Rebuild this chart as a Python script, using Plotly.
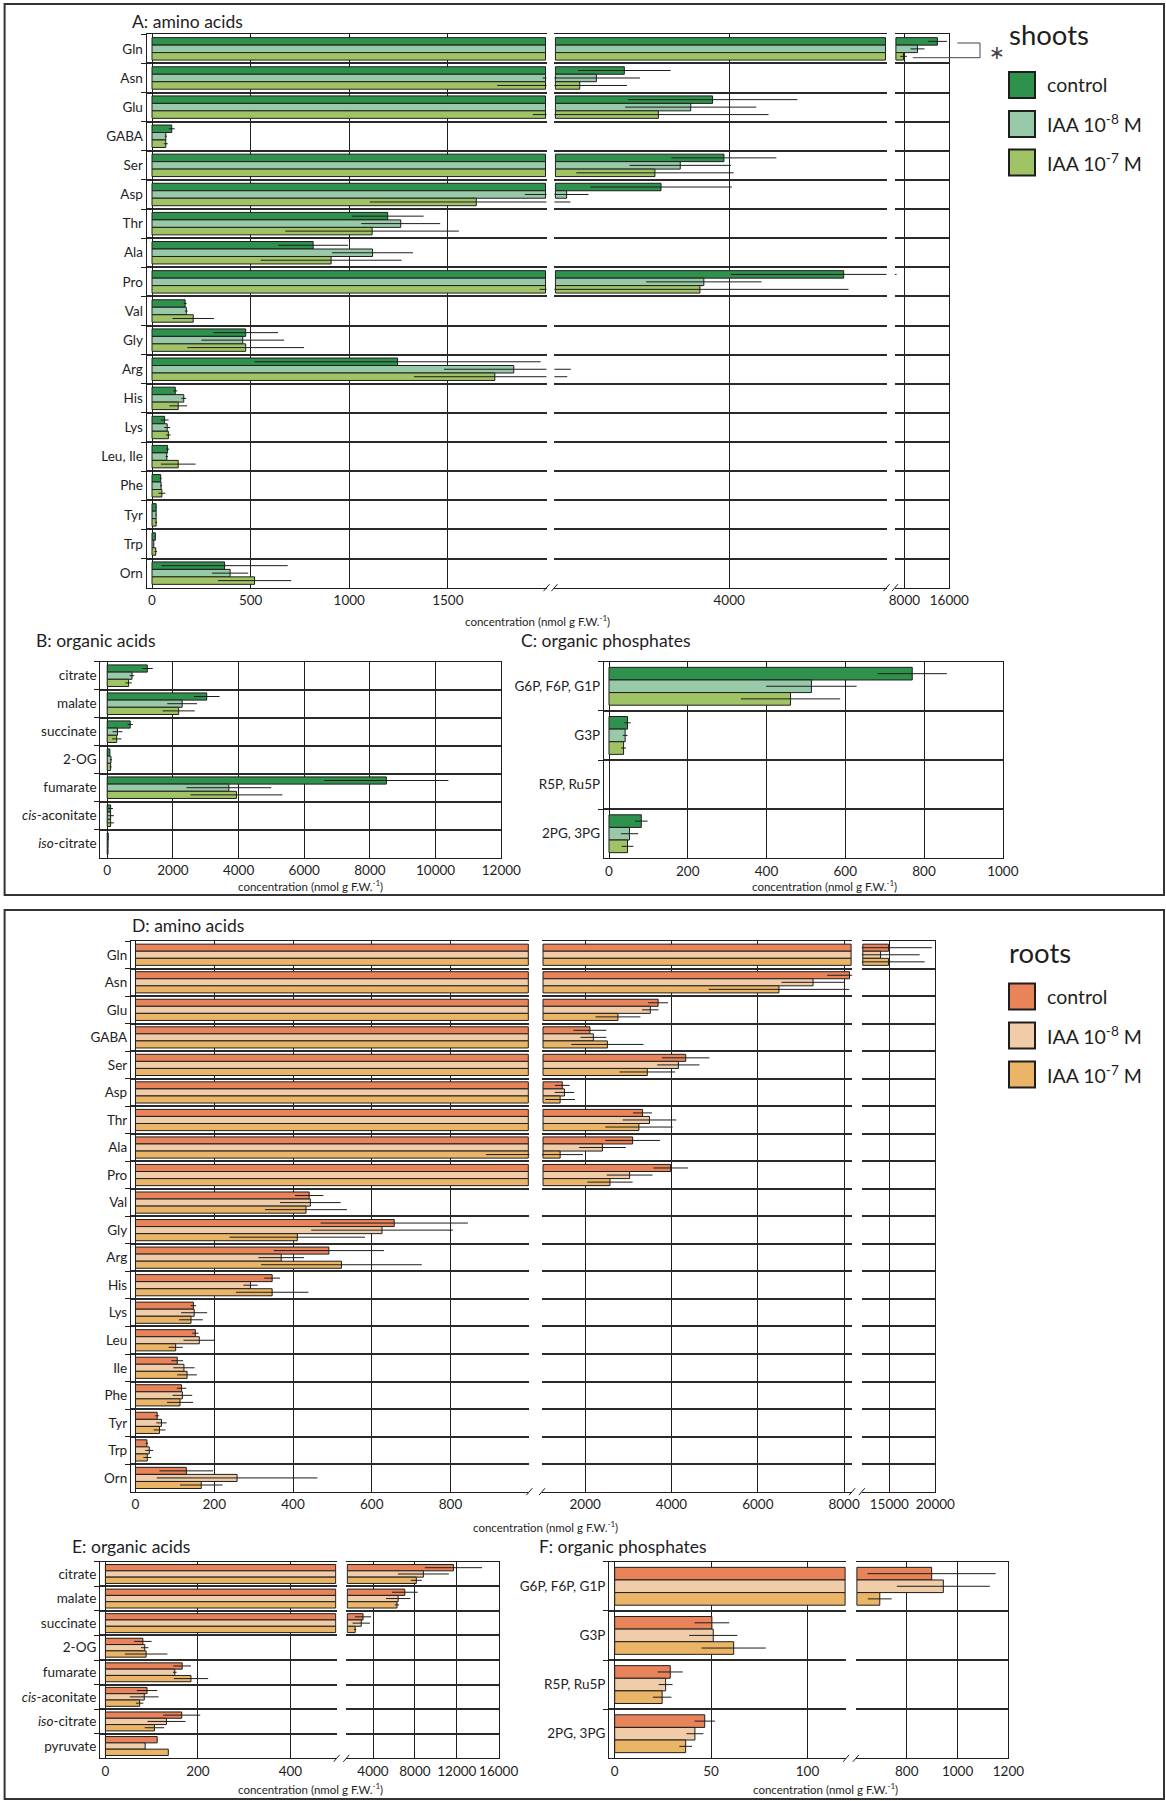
import plotly.graph_objects as go

W, H = 1166, 1801
FONT = "Lato, 'Open Sans', sans-serif"
INK = "#1e1e1e"

# ---------------- data ----------------
treatments = ["control", "IAA 10<sup>-8</sup> M", "IAA 10<sup>-7</sup> M"]

# A: shoots, amino acids (nmol g F.W.-1)
shoot_amino = ["Gln", "Asn", "Glu", "GABA", "Ser", "Asp", "Thr", "Ala", "Pro", "Val",
               "Gly", "Arg", "His", "Lys", "Leu, Ile", "Phe", "Tyr", "Trp", "Orn"]
shoot_amino_control = [13880, 2800, 3810, 100, 3940, 3220, 1195, 817, 5310, 168,
                       475, 1245, 118, 64, 79, 44, 21, 17, 368]
shoot_amino_control_err = [1700, 530, 970, 15, 600, 810, 182, 177, 1290, 7,
                           164, 725, 10, 20, 8, 5, 3, 3, 320]
shoot_amino_iaa8 = [10330, 2480, 3560, 70, 3440, 2140, 1261, 1118, 3710, 174,
                    460, 1834, 161, 77, 75, 46, 21, 9, 396]
shoot_amino_iaa8_err = [1250, 500, 750, 5, 580, 250, 200, 205, 660, 7,
                        210, 354, 12, 15, 6, 5, 3, 2, 92]
shoot_amino_iaa7 = [7830, 2290, 3190, 70, 3150, 1644, 1116, 908, 3665, 209,
                    475, 1738, 133, 83, 133, 50, 21, 19, 520]
shoot_amino_iaa7_err = [600, 540, 1260, 10, 900, 540, 440, 357, 1700, 105,
                        296, 410, 45, 12, 88, 18, 5, 6, 186]

# B: shoots, organic acids
shoot_acids = ["citrate", "malate", "succinate", "2-OG", "fumarate",
               "<i>cis</i>-aconitate", "<i>iso</i>-citrate"]
shoot_acids_control = [1220, 3030, 700, 80, 8500, 104, 33]
shoot_acids_control_err = [165, 390, 80, 10, 1890, 70, 10]
shoot_acids_iaa8 = [755, 2283, 313, 115, 3704, 104, 28]
shoot_acids_iaa8_err = [70, 455, 150, 30, 1290, 100, 5]
shoot_acids_iaa7 = [651, 2177, 289, 104, 3936, 104, 25]
shoot_acids_iaa7_err = [95, 490, 145, 30, 1400, 100, 5]

# C: shoots, organic phosphates
phosphates = ["G6P, F6P, G1P", "G3P", "R5P, Ru5P", "2PG, 3PG"]
shoot_phos_control = [770, 47, 0, 82]
shoot_phos_control_err = [88, 8, 0, 16]
shoot_phos_iaa8 = [514, 41, 0, 52]
shoot_phos_iaa8_err = [115, 6, 0, 22]
shoot_phos_iaa7 = [461, 37, 0, 47]
shoot_phos_iaa7_err = [126, 6, 0, 15]

# D: roots, amino acids
root_amino = ["Gln", "Asn", "Glu", "GABA", "Ser", "Asp", "Thr", "Ala", "Pro", "Val",
              "Gly", "Arg", "His", "Lys", "Leu", "Ile", "Phe", "Tyr", "Trp", "Orn"]
root_amino_control = [14920, 8125, 3690, 2110, 4330, 1470, 3330, 3100, 3980, 441,
                      657, 491, 347, 147, 152, 106, 117, 55, 29, 129]
root_amino_control_err = [4700, 520, 230, 380, 550, 170, 220, 635, 400, 36,
                          187, 140, 20, 7, 8, 15, 12, 5, 3, 68]
root_amino_iaa8 = [14040, 7280, 3510, 2190, 4160, 1520, 3490, 2400, 3030, 444,
                   626, 370, 292, 149, 162, 123, 119, 66, 35, 258]
root_amino_iaa8_err = [4260, 730, 190, 300, 490, 225, 620, 540, 530, 77,
                       180, 58, 18, 33, 40, 27, 25, 13, 10, 204]
root_amino_iaa7 = [14920, 6490, 2760, 2515, 3440, 1420, 3245, 1420, 2575, 433,
                   411, 523, 347, 141, 102, 131, 113, 61, 30, 167]
root_amino_iaa7_err = [3930, 1630, 520, 835, 645, 345, 780, 530, 525, 104,
                       172, 204, 92, 30, 18, 25, 33, 15, 10, 54]

# E: roots, organic acids
root_acids = ["citrate", "malate", "succinate", "2-OG", "fumarate",
              "<i>cis</i>-aconitate", "<i>iso</i>-citrate", "pyruvate"]
root_acids_control = [11680, 7040, 3050, 81, 166, 90, 165, 112]
root_acids_control_err = [2730, 1230, 770, 19, 19, 22, 40, 0]
root_acids_iaa8 = [8810, 6400, 2880, 85, 150, 84, 132, 86]
root_acids_iaa8_err = [2430, 1160, 830, 8, 4, 31, 41, 0]
root_acids_iaa7 = [8135, 6290, 2300, 88, 185, 74, 106, 136]
root_acids_iaa7_err = [520, 200, 100, 46, 37, 8, 21, 0]

# F: roots, organic phosphates
root_phos_control = [898, 50.4, 28.8, 46.7]
root_phos_control_err = [252, 9, 6.5, 5.3]
root_phos_iaa8 = [944, 51.1, 26.4, 41.6]
root_phos_iaa8_err = [183, 12.5, 3.6, 4.4]
root_phos_iaa7 = [694, 61.7, 24.6, 36.8]
root_phos_iaa7_err = [47, 16.7, 4.8, 3.3]

# tick values of each axis segment
ticks_A = [[0, 500, 1000, 1500], [4000], [8000, 16000]]
ticks_B = [[0, 2000, 4000, 6000, 8000, 10000, 12000]]
ticks_C = [[0, 200, 400, 600, 800, 1000]]
ticks_D = [[0, 200, 400, 600, 800], [2000, 4000, 6000, 8000], [15000, 20000]]
ticks_E = [[0, 200, 400], [4000, 8000, 12000, 16000]]
ticks_F = [[0, 50, 100], [800, 1000, 1200]]

# ---------------- styling ----------------
SHOOT_COLORS = ["#2e924c", "#98c9a8", "#a0c465"]
ROOT_COLORS = ["#e8835a", "#f0cca8", "#ebb568"]
TICK_SIZE = 13.5
TITLE_SIZE = 17.5
ROW_LINE = "#2a2a2a"


def first_range(x_left, x_zero, x_right, hi):
    """Range of the first segment so that zero sits a little right of the axis line."""
    lo = -(x_zero - x_left) * hi / (x_right - x_zero)
    return [lo, hi]


# segment layout: (left px, right px, range)
panels = [
    dict(cats=shoot_amino, colors=SHOOT_COLORS, y=(34.3, 587.7), ticks=ticks_A,
         series=[(shoot_amino_control, shoot_amino_control_err),
                 (shoot_amino_iaa8, shoot_amino_iaa8_err),
                 (shoot_amino_iaa7, shoot_amino_iaa7_err)],
         segs=[(146.6, 546.5, first_range(146.6, 152.0, 546.5, 2000)),
               (554.4, 886.5, [2000, 5800]),
               (894.9, 949.3, [6300, 16000])]),
    dict(cats=shoot_acids, colors=SHOOT_COLORS, y=(661.7, 857.7), ticks=ticks_B,
         series=[(shoot_acids_control, shoot_acids_control_err),
                 (shoot_acids_iaa8, shoot_acids_iaa8_err),
                 (shoot_acids_iaa7, shoot_acids_iaa7_err)],
         segs=[(100.3, 501.3, first_range(100.3, 107.2, 501.3, 12000))]),
    dict(cats=phosphates, colors=SHOOT_COLORS, y=(661.7, 858.3), ticks=ticks_C,
         series=[(shoot_phos_control, shoot_phos_control_err),
                 (shoot_phos_iaa8, shoot_phos_iaa8_err),
                 (shoot_phos_iaa7, shoot_phos_iaa7_err)],
         segs=[(603.8, 1002.8, first_range(603.8, 609.0, 1002.8, 1000))]),
    dict(cats=root_amino, colors=ROOT_COLORS, y=(941.0, 1491.7), ticks=ticks_D,
         series=[(root_amino_control, root_amino_control_err),
                 (root_amino_iaa8, root_amino_iaa8_err),
                 (root_amino_iaa7, root_amino_iaa7_err)],
         segs=[(130.9, 529.3, first_range(130.9, 135.5, 529.3, 1000)),
               (542.0, 852.1, [1000, 8185]),
               (861.8, 935.3, [12000, 20000])]),
    dict(cats=root_acids, colors=ROOT_COLORS, y=(1561.7, 1758.3), ticks=ticks_E,
         series=[(root_acids_control, root_acids_control_err),
                 (root_acids_iaa8, root_acids_iaa8_err),
                 (root_acids_iaa7, root_acids_iaa7_err)],
         segs=[(100.0, 336.7, first_range(100.0, 105.4, 336.7, 500)),
               (346.3, 498.7, [1450, 16000])]),
    dict(cats=phosphates, colors=ROOT_COLORS, y=(1561.7, 1758.3), ticks=ticks_F,
         series=[(root_phos_control, root_phos_control_err),
                 (root_phos_iaa8, root_phos_iaa8_err),
                 (root_phos_iaa7, root_phos_iaa7_err)],
         segs=[(609.1, 846.1, first_range(609.1, 614.7, 846.1, 120)),
               (855.9, 1008.4, [600, 1200])]),
]

fig = go.Figure()
layout_axes = {}
n = 0
for panel in panels:
    cats = panel["cats"]
    yt, yb = panel["y"]
    nseg = len(panel["segs"])
    for k, (xl, xr, rng) in enumerate(panel["segs"]):
        n += 1
        suffix = "" if n == 1 else str(n)
        xname, yname = "x" + suffix, "y" + suffix
        last = k == nseg - 1
        # inset of one pixel so bar outlines stay visible at the axis breaks
        inset = 1.0 * (rng[1] - rng[0]) / (xr - xl)
        lo = 0 if k == 0 else rng[0] + inset
        hi = rng[1] if last else rng[1] - inset
        for j, (vals, errs) in enumerate(panel["series"]):
            # visible bar piece that falls inside this axis segment
            seg_len = [(min(v, hi) - lo) if v > lo else None for v in vals]
            fig.add_trace(go.Bar(
                y=cats, x=seg_len, base=[lo] * len(vals), orientation="h",
                name=treatments[j], offsetgroup=str(j), showlegend=False,
                marker=dict(color=panel["colors"][j], line=dict(color=INK, width=1)),
                xaxis=xname, yaxis=yname,
            ))
        for j, (vals, errs) in enumerate(panel["series"]):
            # error bars around the full value
            fig.add_trace(go.Bar(
                y=cats, x=vals, orientation="h", name=treatments[j],
                offsetgroup=str(j), showlegend=False, hoverinfo="skip",
                marker=dict(color="rgba(0,0,0,0)", line=dict(width=0)),
                error_x=dict(type="data", array=errs, visible=True, color=INK,
                             thickness=1, width=0),
                xaxis=xname, yaxis=yname,
            ))
        ticks = panel["ticks"][k]
        layout_axes["xaxis" + suffix] = dict(
            domain=[xl / W, xr / W], range=rng, anchor=yname, automargin=False,
            tickmode="array", tickvals=ticks, ticktext=[str(t) for t in ticks],
            tickangle=0,
            showgrid=True, gridcolor=INK, gridwidth=1,
            zeroline=(k == 0), zerolinecolor=INK, zerolinewidth=1,
            showline=True, linecolor=INK, linewidth=1, mirror=True,
            ticks="", tickfont=dict(family=FONT, size=TICK_SIZE, color=INK),
            fixedrange=True,
        )
        ya = dict(
            domain=[1 - yb / H, 1 - yt / H], anchor=xname, automargin=False,
            type="category", categoryorder="array", categoryarray=cats,
            autorange="reversed", tickson="boundaries",
            showgrid=True, gridcolor=ROW_LINE, gridwidth=1.5,
            showticklabels=(k == 0), ticks="outside" if k == 0 else "",
            ticklen=5, tickcolor=INK, tickwidth=1,
            tickfont=dict(family=FONT, size=TICK_SIZE, color=INK),
            showline=(k == 0 or last), linecolor=INK, linewidth=1,
            zeroline=False, fixedrange=True,
        )
        if nseg == 1:
            ya["mirror"] = True
        elif last:
            ya["side"] = "right"
        layout_axes["yaxis" + suffix] = ya

fig.update_layout(**layout_axes)


def P(x, y):
    return x / W, 1 - y / H


annotations = []
shapes = []


def text(x, y, s, size, anchor="left", family=FONT, color=INK):
    px, py = P(x, y)
    annotations.append(dict(x=px, y=py, xref="paper", yref="paper", text=s,
                            showarrow=False, xanchor=anchor, yanchor="middle",
                            font=dict(family=family, size=size, color=color)))


def line(x0, y0, x1, y1, color=INK, width=1):
    a, b = P(x0, y0)
    c, d = P(x1, y1)
    shapes.append(dict(type="line", xref="paper", yref="paper", x0=a, y0=b, x1=c, y1=d,
                       line=dict(color=color, width=width)))


# outer frames of the shoot and root figures
for (x0, y0, x1, y1) in [(4.6, 4.0, 1164.0, 895.0), (4.6, 910.0, 1164.0, 1799.0)]:
    a, b = P(x0, y0)
    c, d = P(x1, y1)
    shapes.append(dict(type="rect", xref="paper", yref="paper", x0=a, y0=b, x1=c, y1=d,
                       line=dict(color="#333333", width=2)))

# panel titles
text(130, 22, "A: amino acids", TITLE_SIZE)
text(34.4, 640.7, "B: organic acids", TITLE_SIZE)
text(519.4, 640.7, "C: organic phosphates", TITLE_SIZE)
text(130, 925, "D: amino acids", TITLE_SIZE)
text(69.6, 1546.7, "E: organic acids", TITLE_SIZE)
text(537.4, 1546.7, "F: organic phosphates", TITLE_SIZE)

# axis titles
xtitle = "concentration (nmol g F.W.<sup>-1</sup>)"
for (x, y) in [(537, 620.5), (310, 885.5), (824, 885.5), (545, 1526), (310.6, 1788), (825, 1788)]:
    text(x, y, xtitle, 11.5, anchor="center")

# axis break marks
for (xl, xr, y) in [(546.5, 554.4, 587.7), (886.5, 894.9, 587.7),
                    (529.3, 542.0, 1491.7), (852.1, 861.8, 1491.7),
                    (336.7, 346.3, 1758.3), (846.1, 855.9, 1758.3)]:
    for x in (xl, xr):
        line(x - 3, y + 3.5, x + 3, y - 3.5)

# significance bracket on shoot Gln
line(957.4, 43.0, 980.0, 43.0, color="#444444")
line(980.0, 43.0, 980.0, 57.7, color="#444444")
line(980.0, 57.7, 912.8, 57.7, color="#444444")
text(987, 52, "∗", 19, family="DejaVu Sans", color="#444444")

# legends
for title, ty, colors, tops in [("shoots", 35, SHOOT_COLORS, [72.0, 111.0, 149.5]),
                                ("roots", 952, ROOT_COLORS, [983.5, 1022.5, 1061.5])]:
    text(1007, ty, title, 27.5)
    for color, top, label in zip(colors, tops, treatments):
        a, b = P(1009, top)
        c, d = P(1035, top + 26)
        shapes.append(dict(type="rect", xref="paper", yref="paper", x0=a, y0=b, x1=c, y1=d,
                           fillcolor=color, line=dict(color=INK, width=2)))
        text(1045, top + 13, label, 19.5)

fig.update_layout(
    template="none",
    width=W, height=H, autosize=False,
    margin=dict(l=0, r=0, t=0, b=0, pad=0, autoexpand=False),
    paper_bgcolor="white", plot_bgcolor="white",
    barmode="group", bargap=0.23, bargroupgap=0,
    font=dict(family=FONT, color=INK),
    annotations=annotations, shapes=shapes,
    showlegend=False,
)

fig.write_html(
    "out.html",
    config={"responsive": False, "displayModeBar": False},
    post_script="document.body.style.margin='0';document.body.style.overflow='hidden';",
)
